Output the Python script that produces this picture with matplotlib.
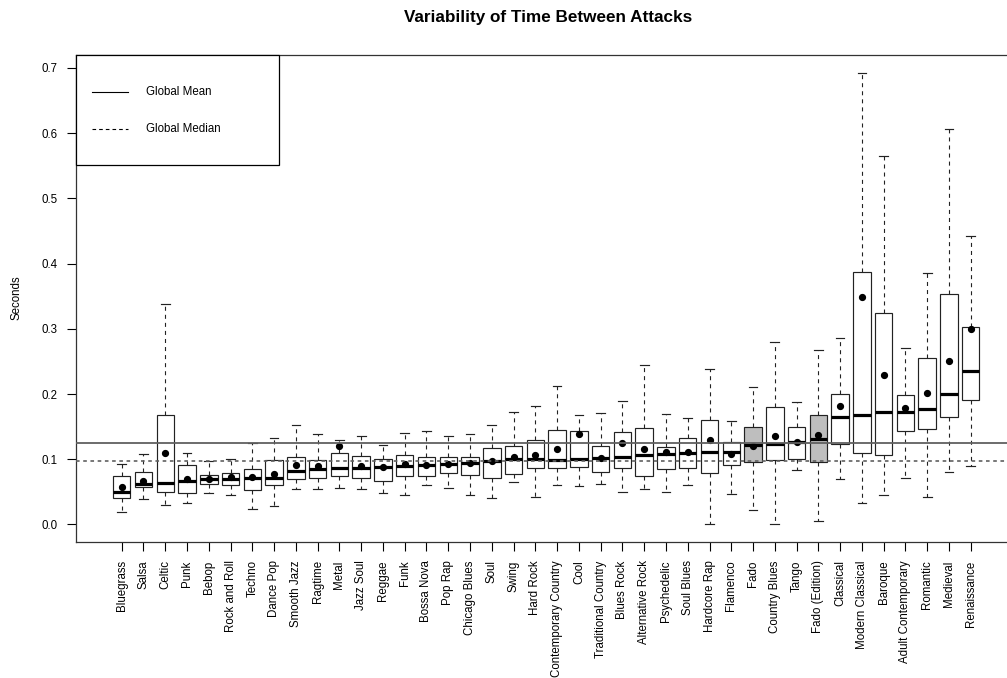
import matplotlib
matplotlib.use("Agg")
import matplotlib.pyplot as plt
from matplotlib.lines import Line2D
from matplotlib.patches import Rectangle

plt.rcParams['font.family'] = ['Liberation Sans', 'DejaVu Sans']
plt.rcParams['lines.scale_dashes'] = False

genres = ["Bluegrass", "Salsa", "Celtic", "Punk", "Bebop", "Rock and Roll", "Techno",
          "Dance Pop", "Smooth Jazz", "Ragtime", "Metal", "Jazz Soul", "Reggae", "Funk",
          "Bossa Nova", "Pop Rap", "Chicago Blues", "Soul", "Swing", "Hard Rock",
          "Contemporary Country", "Cool", "Traditional Country", "Blues Rock",
          "Alternative Rock", "Psychedelic", "Soul Blues", "Hardcore Rap", "Flamenco",
          "Fado", "Country Blues", "Tango", "Fado (Edition)", "Classical",
          "Modern Classical", "Baroque", "Adult Contemporary", "Romantic", "Medieval",
          "Renaissance"]

whisk_lo = [0.0187, 0.0386, 0.0305, 0.0325, 0.0478, 0.0452, 0.0233, 0.0281, 0.0544, 0.0544,
            0.0565, 0.0550, 0.0488, 0.0457, 0.0610, 0.0560, 0.0457, 0.0411, 0.0657, 0.0427,
            0.0600, 0.0597, 0.0620, 0.0493, 0.0544, 0.0503, 0.0600, 0.0008, 0.0462, 0.0228,
            0.0008, 0.0830, 0.0054, 0.0702, 0.0325, 0.0447, 0.0718, 0.0422, 0.0800, 0.0897]
q1 = [0.0411, 0.0570, 0.0493, 0.0488, 0.0616, 0.0600, 0.0529, 0.0600, 0.0697, 0.0708,
      0.0738, 0.0708, 0.0662, 0.0738, 0.0748, 0.0794, 0.0760, 0.0708, 0.0779, 0.0861,
      0.0871, 0.0874, 0.0800, 0.0861, 0.0743, 0.0846, 0.0873, 0.0790, 0.0919, 0.0964,
      0.0985, 0.0999, 0.0953, 0.1229, 0.1096, 0.1065, 0.1428, 0.1464, 0.1648, 0.1904]
medians = [0.0493, 0.0616, 0.0636, 0.0667, 0.0692, 0.0697, 0.0708, 0.0718, 0.0825, 0.0846,
           0.0866, 0.0861, 0.0883, 0.0898, 0.0919, 0.0930, 0.0940, 0.0970, 0.0999, 0.0999,
           0.0989, 0.1004, 0.1015, 0.1040, 0.1070, 0.1075, 0.1090, 0.1116, 0.1108, 0.1211,
           0.1236, 0.1267, 0.1310, 0.1648, 0.1683, 0.1720, 0.1729, 0.1770, 0.2005, 0.2357]
q3 = [0.0748, 0.0800, 0.1674, 0.0917, 0.0764, 0.0794, 0.0855, 0.0989, 0.1030, 0.0989,
      0.1090, 0.1055, 0.1009, 0.1066, 0.1030, 0.1040, 0.1030, 0.1177, 0.1203, 0.1295,
      0.1443, 0.1438, 0.1203, 0.1417, 0.1475, 0.1193, 0.1320, 0.1597, 0.1259, 0.1500,
      0.1796, 0.1490, 0.1683, 0.2005, 0.3875, 0.3242, 0.1985, 0.2557, 0.3538, 0.3032]
whisk_hi = [0.0927, 0.1076, 0.3375, 0.1100, 0.0968, 0.0999, 0.1254, 0.1320, 0.1520, 0.1390,
            0.1290, 0.1357, 0.1214, 0.1407, 0.1433, 0.1357, 0.1387, 0.1530, 0.1720, 0.1820,
            0.2127, 0.1675, 0.1706, 0.1886, 0.2440, 0.1691, 0.1630, 0.2389, 0.1584, 0.2101,
            0.2791, 0.1873, 0.2670, 0.2863, 0.6920, 0.5644, 0.2705, 0.3855, 0.6067, 0.4422]
means = [0.0570, 0.0672, 0.1090, 0.0697, 0.0695, 0.0728, 0.0728, 0.0779, 0.0907, 0.0893,
         0.1196, 0.0898, 0.0883, 0.0924, 0.0919, 0.0924, 0.0935, 0.0972, 0.1030, 0.1070,
         0.1153, 0.1390, 0.1020, 0.1246, 0.1164, 0.1113, 0.1108, 0.1290, 0.1088, 0.1206,
         0.1349, 0.1262, 0.1372, 0.1821, 0.3487, 0.2287, 0.1790, 0.2020, 0.2501, 0.3000]
highlighted = ["Fado", "Fado (Edition)"]

global_mean = 0.125
global_median = 0.098

W, H = 1007, 678
fig = plt.figure(figsize=(W / 100, H / 100), dpi=100)
ax_l, ax_r, ax_t, ax_b = 76, 1021, 55, 541.7
ax = fig.add_axes([ax_l / W, 1 - ax_b / H, (ax_r - ax_l) / W, (ax_b - ax_t) / H])

stats = []
for i, g in enumerate(genres):
    stats.append(dict(label=g, whislo=whisk_lo[i], q1=q1[i], med=medians[i],
                      q3=q3[i], whishi=whisk_hi[i], mean=means[i], fliers=[]))

positions = list(range(len(genres)))
bp = ax.bxp(stats, positions=positions, widths=0.8, capwidths=0.4, patch_artist=True,
            showmeans=True, showfliers=False,
            boxprops=dict(edgecolor='#222222', linewidth=0.85, facecolor='none'),
            medianprops=dict(color='black', linewidth=2.3, solid_capstyle='butt'),
            whiskerprops=dict(color='#222222', linewidth=0.8, linestyle=(0, (2.9, 2.9))),
            capprops=dict(color='#222222', linewidth=0.85),
            meanprops=dict(marker='o', markerfacecolor='black', markeredgecolor='black',
                           markersize=4.2))
for patch, g in zip(bp['boxes'], genres):
    if g in highlighted:
        patch.set_facecolor('#bebebe')

ax.axhline(global_mean, color='#606060', linewidth=1.3, zorder=5)
ax.axhline(global_median, color='#606060', linewidth=1.2, linestyle=(0, (2.6, 2.6)), zorder=5)

ax.set_xlim(-2.1, -2.1 + (ax_r - ax_l) / 21.77)
ax.set_ylim(-0.0264, 0.7197)
ax.set_yticks([0.0, 0.1, 0.2, 0.3, 0.4, 0.5, 0.6, 0.7])
ax.set_yticklabels(["0.0", "0.1", "0.2", "0.3", "0.4", "0.5", "0.6", "0.7"])
ax.set_xticks(positions)
ax.set_xticklabels(genres, rotation=90, ha='center', va='top')
ax.tick_params(axis='both', direction='out', length=6.7, width=0.8, pad=6.7,
               labelsize=8.3, color='black', labelcolor='black')
for s in ax.spines.values():
    s.set_color('#333333')
    s.set_linewidth(0.9)

# legend box
def ax_xy(px, py):
    return (px - ax_l) / (ax_r - ax_l), (ax_b - py) / (ax_b - ax_t)

x0, y0 = ax_xy(76, 165)
x1, y1 = ax_xy(279, 55)
ax.add_patch(Rectangle((x0, y0), x1 - x0, y1 - y0, transform=ax.transAxes,
                       facecolor='white', edgecolor='black', linewidth=0.9,
                       zorder=10, clip_on=False))
for py, label, ls in [(91.7, "Global Mean", '-'), (129, "Global Median", (0, (2.6, 2.2)))]:
    lx0, ly = ax_xy(92.3, py)
    lx1, _ = ax_xy(128.3, py)
    ax.add_line(Line2D([lx0, lx1], [ly, ly], transform=ax.transAxes, color='black',
                       linewidth=0.8, linestyle=ls, zorder=11))
    tx, _ = ax_xy(146, py)
    ax.text(tx, ly, label, transform=ax.transAxes, ha='left', va='center',
            fontsize=8.3, zorder=11)

fig.text(548.5 / W, 1 - 22 / H, "Variability of Time Between Attacks",
         ha='center', va='baseline', fontsize=12.3, fontweight='bold')
fig.text(17 / W, 1 - 298 / H, "Seconds", rotation=90, ha='center', va='center',
         fontsize=8.3)

fig.savefig("out.png", dpi=100)
